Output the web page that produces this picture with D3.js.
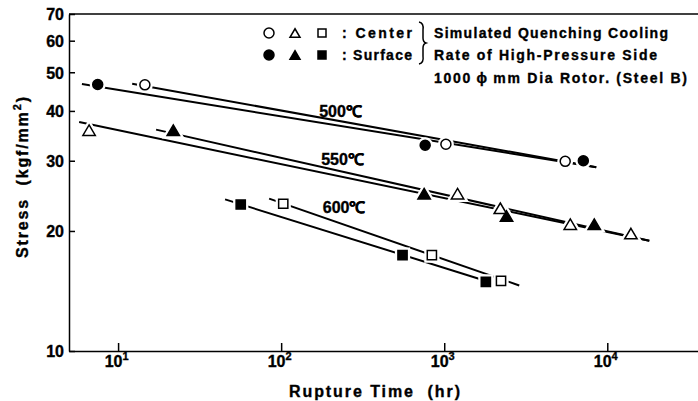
<!DOCTYPE html>
<html>
<head>
<meta charset="utf-8">
<script src="https://cdn.jsdelivr.net/npm/d3@7.9.0/dist/d3.min.js"></script>
<style>
  body { margin: 0; background: #fff; }
  svg { display: block; }
  svg text { font-family: "Liberation Sans", Arial, sans-serif; font-weight: bold; fill: #000; stroke: #000; stroke-width: 0.35px; }
</style>
</head>
<body>
<div id="chart"></div>
<script>
// rupture time (hr), stress (kgf/mm2)
const center500 = [[14.6, 46.5], [1024, 33.0], [5520, 29.9]];
const surface500 = [[7.5, 46.6], [764, 32.8], [7130, 30.0]];
const center550 = [[6.64, 35.8], [1207, 24.8], [2208, 22.8], [5930, 20.8], [13960, 19.7]];
const surface550 = [[21.8, 35.8], [753, 24.8], [2411, 21.8], [8320, 20.8]];
const center600 = [[103, 23.4], [840, 17.4], [2230, 15.0]];
const surface600 = [[56.5, 23.3], [555, 17.4], [1800, 14.9]];

// fitted lines, start and end
const fit500c = [[12.2, 46.8], [8560, 28.9]];
const fit500s = [[6.0, 46.7], [8560, 28.9]];
const fit550c = [[5.77, 37.5], [18100, 18.9]];
const fit550s = [[17.1, 35.9], [18100, 18.9]];
const fit600c = [[84.4, 24.1], [2885, 14.6]];
const fit600s = [[45.3, 24.0], [1888, 14.9]];

const tempLabels = ['500℃', '550℃', '600℃'];
const tempLabelPos = [[171, 38.6], [176, 29.3], [180, 22.2]];

const yTicks = [10, 20, 30, 40, 50, 60, 70];
const xTicks = [10, 100, 1000, 10000];

const width = 698, height = 401;

const svg = d3.select('#chart').append('svg')
  .attr('width', width)
  .attr('height', height);

const x = d3.scaleLog().domain([5, 36000]).range([69, 698]);
const y = d3.scaleLog().domain([10, 70]).range([351, 14]);

// frame
svg.append('line')
  .attr('x1', 69).attr('x2', width)
  .attr('y1', y(70)).attr('y2', y(70))
  .attr('stroke', '#000').attr('stroke-width', 1.5);

// y axis
const yAxis = svg.append('g')
  .attr('transform', `translate(${x(5)},0)`)
  .call(d3.axisLeft(y).tickValues(yTicks).tickFormat(d3.format('d'))
    .tickSizeInner(-6).tickSizeOuter(0).tickPadding(5));
yAxis.attr('font-family', null).attr('font-size', null);
yAxis.selectAll('path, line').attr('stroke-width', 1.5);
yAxis.selectAll('text').style('font-size', '16px').attr('dy', '0.36em');

// x axis
const xAxis = svg.append('g')
  .attr('transform', `translate(0,${y(10)})`)
  .call(d3.axisBottom(x).tickValues(xTicks).tickFormat('')
    .tickSizeInner(-8).tickSizeOuter(0));
xAxis.attr('font-family', null).attr('font-size', null);
xAxis.selectAll('path, line').attr('stroke-width', 1.5);
xAxis.selectAll('.tick').each(function(d) {
  const t = d3.select(this).append('text')
    .style('font-size', '16px')
    .attr('y', 16)
    .attr('x', -2)
    .attr('text-anchor', 'middle');
  t.append('tspan').text('10');
  t.append('tspan').style('font-size', '11px').attr('dy', -7).text(Math.round(Math.log10(d)));
});

// axis titles
svg.append('text')
  .attr('x', 289).attr('y', 397)
  .style('font-size', '16px')
  .attr('textLength', 171).attr('lengthAdjust', 'spacing')
  .text('Rupture Time\u00a0\u00a0(hr)');

const yt = svg.append('text')
  .attr('transform', 'translate(28,258) rotate(-90)')
  .style('font-size', '16px')
  .attr('textLength', 161).attr('lengthAdjust', 'spacing');
yt.append('tspan').text('Stress\u00a0\u00a0(kgf/mm');
yt.append('tspan').style('font-size', '11px').attr('dy', -7).text('2');
yt.append('tspan').attr('dy', 7).text(')');

// fitted lines
const line = d3.line().x(d => x(d[0])).y(d => y(d[1]));
const fits = [fit500c, fit500s, fit550c, fit550s, fit600c, fit600s];
svg.append('g').selectAll('path')
  .data(fits)
  .join('path')
  .attr('d', line)
  .attr('fill', 'none')
  .attr('stroke', '#000')
  .attr('stroke-width', 2);

// marker shapes
function shapePath(shape, s) {
  if (shape === 'circle') {
    return `M${-s},0A${s},${s} 0 1,0 ${s},0A${s},${s} 0 1,0 ${-s},0Z`;
  }
  if (shape === 'triangle') {
    const h = s * 1.7;
    return `M0,${-h / 2}L${s},${h / 2}L${-s},${h / 2}Z`;
  }
  return `M${-s},${-s}H${s}V${s}H${-s}Z`;
}
const shapeSize = { circle: 5, triangle: 6.2, square: 4.6 };

const groups = [
  { pts: center500, shape: 'circle', filled: false },
  { pts: surface500, shape: 'circle', filled: true },
  { pts: center550, shape: 'triangle', filled: false },
  { pts: surface550, shape: 'triangle', filled: true },
  { pts: center600, shape: 'square', filled: false },
  { pts: surface600, shape: 'square', filled: true },
];

const allMarks = groups.flatMap(g => g.pts.map(p => ({ ...g, t: p[0], s: p[1] })));

// white halos make the little gaps around markers
svg.append('g').selectAll('path')
  .data(allMarks)
  .join('path')
  .attr('transform', d => `translate(${x(d.t)},${y(d.s)})`)
  .attr('d', d => shapePath(d.shape, shapeSize[d.shape]))
  .attr('fill', '#fff')
  .attr('stroke', '#fff')
  .attr('stroke-width', 6);

svg.append('g').selectAll('path')
  .data(allMarks)
  .join('path')
  .attr('transform', d => `translate(${x(d.t)},${y(d.s)})`)
  .attr('d', d => shapePath(d.shape, shapeSize[d.shape]))
  .attr('fill', d => d.filled ? '#000' : '#fff')
  .attr('stroke', '#000')
  .attr('stroke-width', 1.5);

// temperature labels
svg.append('g').selectAll('text')
  .data(tempLabels)
  .join('text')
  .attr('x', (d, i) => x(tempLabelPos[i][0]))
  .attr('y', (d, i) => y(tempLabelPos[i][1]))
  .style('font-size', '16px')
  .text(d => d);

// legend
const legend = svg.append('g');
const legendShapes = ['circle', 'triangle', 'square'];
const legendX = [269, 295, 322];
[[false, 33, ': Center'], [true, 55, ': Surface']].forEach(([filled, ly, label]) => {
  legendShapes.forEach((sh, i) => {
    legend.append('path')
      .attr('transform', `translate(${legendX[i]},${ly})`)
      .attr('d', shapePath(sh, sh === 'square' ? 4 : 5))
      .attr('fill', filled ? '#000' : '#fff')
      .attr('stroke', '#000')
      .attr('stroke-width', 1.5);
  });
  legend.append('text')
    .attr('x', 342).attr('y', ly + 5)
    .style('font-size', '14px')
    .attr('textLength', 70).attr('lengthAdjust', 'spacing')
    .text(label);
});

// brace
legend.append('path')
  .attr('d', 'M419,22 Q424,23 423,30 L423,38 Q423,42 426,43 Q423,44 423,48 L423,56 Q424,63 419,64')
  .attr('fill', 'none')
  .attr('stroke', '#000')
  .attr('stroke-width', 1.5);

const noteLines = [
  ['Simulated Quenching Cooling', 38, 234],
  ['Rate of High-Pressure Side', 60, 223],
  ['1000\u2009ϕ\u2009mm Dia Rotor. (Steel B)', 83, 253],
];
legend.selectAll('text.note')
  .data(noteLines)
  .join('text')
  .attr('class', 'note')
  .attr('x', 434)
  .attr('y', d => d[1])
  .style('font-size', '14px')
  .attr('textLength', d => d[2])
  .attr('lengthAdjust', 'spacing')
  .text(d => d[0]);
</script>
</body>
</html>
